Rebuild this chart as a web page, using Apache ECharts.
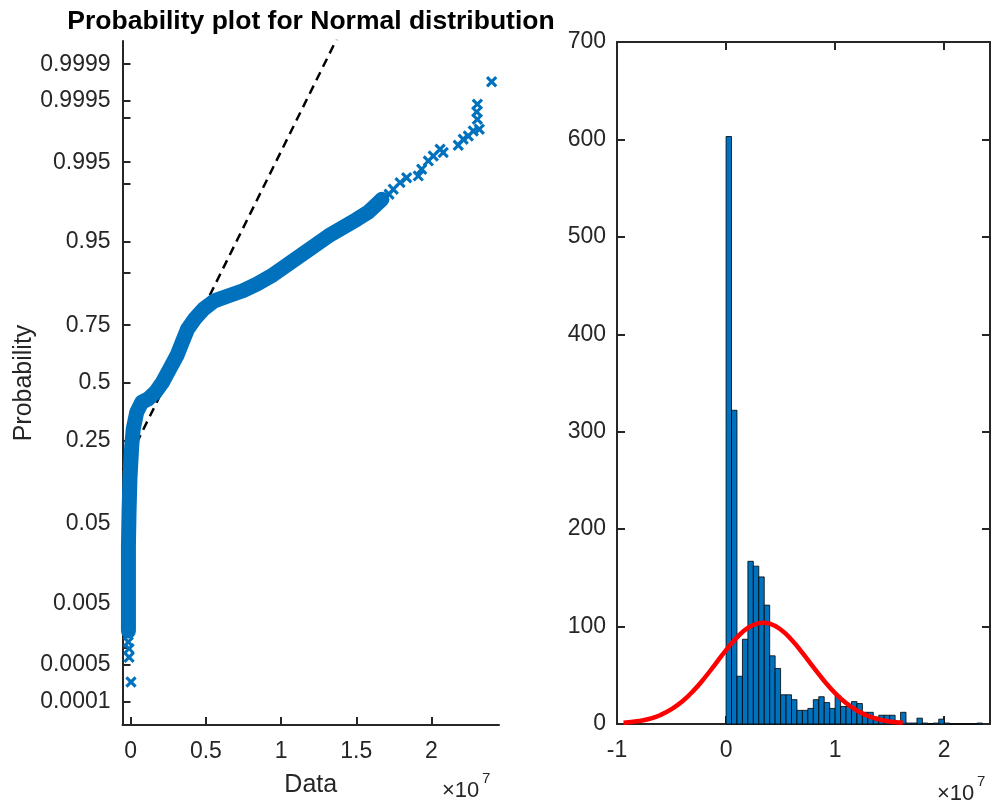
<!DOCTYPE html>
<html><head><meta charset="utf-8">
<script src="https://cdn.jsdelivr.net/npm/echarts@6/dist/echarts.min.js"></script>
<style>html,body{margin:0;padding:0;background:#fff}#c{width:992px;height:803px}</style>
</head><body><div id="c"></div>
<script>
// ---------- Left: normal probability plot (x in units of 1e7) ----------
const bandX = [-0.015,-0.015,-0.015,-0.011,-0.005,0.007,0.017,0.040,0.073,0.116,0.164,0.211,0.259,0.307,0.342,0.378,0.425,0.485,0.556,0.651,0.746,0.840,0.936,1.031,1.126,1.221,1.316,1.411,1.505,1.577,1.624,1.671];
const bandP = [0.0019,0.0112,0.029,0.066,0.1316,0.2325,0.296,0.3665,0.411,0.426,0.457,0.503,0.565,0.625,0.682,0.735,0.772,0.806,0.831,0.8455,0.859,0.8758,0.8945,0.9142,0.9311,0.9452,0.957,0.9652,0.972,0.9767,0.9806,0.984];
const tailX = [1.718,1.746,1.791,1.835,1.912,1.935,1.979,2.012,2.057,2.078,2.178,2.211,2.245,2.278,2.318,2.305,2.301,2.305,2.400];
const tailP = [0.9862,0.9881,0.9903,0.9917,0.99216,0.99368,0.99522,0.99596,0.9968,0.99642,0.99723,0.99777,0.99802,0.99836,0.99846,0.99895,0.99922,0.99943,0.99978];
const lowX = [-0.016,-0.011,-0.011,0.002];
const lowP = [0.00126,0.00097,0.00069,0.000243];
const refX = [-0.05, 1.37];
const refP = [0.155, 0.99997];
const probTicks = [0.0001,0.0005,0.001,0.005,0.01,0.05,0.1,0.25,0.5,0.75,0.9,0.95,0.99,0.995,0.999,0.9995,0.9999];
const probLabels = ['0.0001','0.0005','','0.005','','0.05','','0.25','0.5','0.75','','0.95','','0.995','','0.9995','0.9999'];
const dataTicks = [0,0.5,1,1.5,2];

// ---------- Right: histogram with normal fit ----------
const binStart = 0;
const binWidth = 0.05;
const counts = [603,322,49,87,167,162,151,122,70,57,30,30,25,14,14,16,25,28,22,16,29,18,18,23,21,12,12,7,9,9,9,2,12,1,1,6,1,0,1,5,1,0,0,0,0,0,1];
const fitX = [-0.94,-0.8,-0.7,-0.6,-0.5,-0.4,-0.3,-0.2,-0.1,0,0.1,0.2,0.3,0.34,0.4,0.5,0.6,0.7,0.8,0.9,1.0,1.1,1.2,1.3,1.4,1.5,1.62];
const fitY = [1.2,3.0,5.4,9.3,15.2,23.3,34.0,46.9,61.3,75.9,88.9,98.6,103.5,104,103.0,97.0,86.5,73.0,58.4,44.2,31.7,21.5,13.8,8.4,4.8,2.6,1.2];
const histXTicks = [-1,0,1,2];
const histYTicks = [0,100,200,300,400,500,600,700];

// inverse standard normal CDF (probability-scale axis)
function norminv(p){
  const a=[-3.969683028665376e+01,2.209460984245205e+02,-2.759285104469687e+02,1.383577518672690e+02,-3.066479806614716e+01,2.506628277459239e+00];
  const b=[-5.447609879822406e+01,1.615858368580409e+02,-1.556989798598866e+02,6.680131188771972e+01,-1.328068155288572e+01];
  const c=[-7.784894002430293e-03,-3.223964580411365e-01,-2.400758277161838e+00,-2.549732539343734e+00,4.374664141464968e+00,2.938163982698783e+00];
  const d=[7.784695709041462e-03,3.224671290700398e-01,2.445134137142996e+00,3.754408661907416e+00];
  const pl=0.02425, ph=1-pl; let q,r;
  if(p<pl){q=Math.sqrt(-2*Math.log(p));return (((((c[0]*q+c[1])*q+c[2])*q+c[3])*q+c[4])*q+c[5])/((((d[0]*q+d[1])*q+d[2])*q+d[3])*q+1);}
  if(p<=ph){q=p-0.5;r=q*q;return (((((a[0]*r+a[1])*r+a[2])*r+a[3])*r+a[4])*r+a[5])*q/(((((b[0]*r+b[1])*r+b[2])*r+b[3])*r+b[4])*r+1);}
  q=Math.sqrt(-2*Math.log(1-p));return -(((((c[0]*q+c[1])*q+c[2])*q+c[3])*q+c[4])*q+c[5])/((((d[0]*q+d[1])*q+d[2])*q+d[3])*q+1);
}

const FONT = "'Liberation Sans', Arial, Helvetica, sans-serif";
const AX = '#262626';
const BLUE = '#0072BD';
const tickZ = probTicks.map(norminv);
const labelZ = probTicks.filter((p,i)=>probLabels[i]!=='').map(norminv);
function probLabel(v){
  let best=0, bd=1e9;
  tickZ.forEach((z,i)=>{const dd=Math.abs(z-v); if(dd<bd){bd=dd;best=i;}});
  return probLabels[best];
}
const lineStyle = {color: AX, width: 2};
const labelStyle = {color: AX, fontSize: 23, fontFamily: FONT};

const bandLine = bandX.map((x,i)=>[x, norminv(bandP[i])]);
const markers = bandX.map((x,i)=>[x, norminv(bandP[i])])
  .concat(tailX.map((x,i)=>[x, norminv(tailP[i])]))
  .concat(lowX.map((x,i)=>[x, norminv(lowP[i])]));
const refLine = refX.map((x,i)=>[x, norminv(refP[i])]);
const histData = counts.map((c,i)=>[binStart+i*binWidth, binStart+(i+1)*binWidth, c]);
const fitData = fitX.map((x,i)=>[x, fitY[i]]);

const XMARK = 'path://M3.8,0L6.2,0L6.2,3.8L10,3.8L10,6.2L6.2,6.2L6.2,10L3.8,10L3.8,6.2L0,6.2L0,3.8L3.8,3.8Z';
const expStyle = (t, size) => ({text: t, font: size + 'px ' + FONT, fontSize: size, fontFamily: FONT, fill: AX});

const chart = echarts.init(document.getElementById('c'), null, {renderer:'canvas'});
chart.setOption({
  animation: false,
  backgroundColor: '#fff',
  title: {
    text: 'Probability plot for Normal distribution',
    left: 311, top: 8, textAlign: 'center', padding: 0,
    textStyle: {fontSize: 26.5, fontWeight: 'bold', color: '#000', fontFamily: FONT}
  },
  grid: [
    {left: 122.5, top: 41, width: 376.5, height: 684, containLabel: false, outerBoundsMode: 'none'},
    {left: 617, top: 42, width: 373, height: 682, containLabel: false, outerBoundsMode: 'none'}
  ],
  xAxis: [
    {gridIndex: 0, type: 'value', min: -0.0545, max: 2.449, position: 'bottom',
     axisLine: {show: true, onZero: false, lineStyle},
     axisTick: {show: true, inside: true, length: 8, lineStyle, customValues: dataTicks},
     axisLabel: {customValues: dataTicks, margin: 15, ...labelStyle, formatter: v => String(v)},
     splitLine: {show: false},
     name: 'Data', nameLocation: 'middle', nameGap: 48,
     nameTextStyle: {fontSize: 25, color: AX, fontFamily: FONT}},
    {gridIndex: 1, type: 'value', min: -1, max: 2.42, position: 'bottom',
     axisLine: {show: true, onZero: false, lineStyle},
     axisTick: {show: true, inside: true, length: 8, lineStyle, customValues: histXTicks},
     axisLabel: {customValues: histXTicks, margin: 15, ...labelStyle, formatter: v => String(v)},
     splitLine: {show: false}},
    {gridIndex: 1, type: 'value', min: -1, max: 2.42, position: 'top',
     axisLine: {show: true, onZero: false, lineStyle},
     axisTick: {show: true, inside: true, length: 8, lineStyle, customValues: histXTicks},
     axisLabel: {show: false}, splitLine: {show: false}}
  ],
  yAxis: [
    {gridIndex: 0, type: 'value', min: -3.99, max: 3.99,
     axisLine: {show: true, onZero: false, lineStyle},
     axisTick: {show: true, inside: true, length: 8, lineStyle, customValues: tickZ},
     axisLabel: {customValues: labelZ, margin: 12, ...labelStyle, formatter: probLabel},
     splitLine: {show: false},
     name: 'Probability', nameLocation: 'middle', nameGap: 84,
     nameTextStyle: {fontSize: 25, color: AX, fontFamily: FONT}},
    {gridIndex: 1, type: 'value', min: 0, max: 700,
     axisLine: {show: true, onZero: false, lineStyle},
     axisTick: {show: true, inside: true, length: 8, lineStyle, customValues: histYTicks},
     axisLabel: {customValues: histYTicks, margin: 11, ...labelStyle},
     splitLine: {show: false}},
    {gridIndex: 1, type: 'value', min: 0, max: 700, position: 'right',
     axisLine: {show: true, onZero: false, lineStyle},
     axisTick: {show: true, inside: true, length: 8, lineStyle, customValues: histYTicks},
     axisLabel: {show: false}, splitLine: {show: false}}
  ],
  graphic: [
    {type: 'text', x: 442, y: 780, style: expStyle('×10', 22)},
    {type: 'text', x: 482, y: 771, style: expStyle('7', 15)},
    {type: 'text', x: 937, y: 783, style: expStyle('×10', 22)},
    {type: 'text', x: 977, y: 774, style: expStyle('7', 15)}
  ],
  series: [
    {type: 'line', xAxisIndex: 0, yAxisIndex: 0, data: refLine, showSymbol: false, z: 1,
     lineStyle: {color: '#000', width: 2.5, type: [9, 6]}, clip: true},
    {type: 'line', xAxisIndex: 0, yAxisIndex: 0, data: bandLine, showSymbol: false, z: 2,
     lineStyle: {color: BLUE, width: 15, cap: 'round', join: 'round'}},
    {type: 'scatter', xAxisIndex: 0, yAxisIndex: 0, data: markers, z: 3,
     symbol: XMARK, symbolSize: 13, symbolRotate: 45, itemStyle: {color: BLUE, opacity: 1}},
    {type: 'custom', xAxisIndex: 1, yAxisIndex: 1, data: histData, z: 2,
     encode: {x: [0, 1], y: 2},
     renderItem: function(params, api){
       const p0 = api.coord([api.value(0), 0]);
       const p1 = api.coord([api.value(1), api.value(2)]);
       return {type: 'rect',
         shape: {x: p0[0], y: p1[1], width: p1[0]-p0[0], height: p0[1]-p1[1]},
         style: {fill: BLUE, stroke: '#000', lineWidth: 0.8}};
     }},
    {type: 'line', xAxisIndex: 1, yAxisIndex: 1, data: fitData, showSymbol: false, smooth: true, z: 4,
     lineStyle: {color: '#FF0000', width: 4.5}}
  ]
});
</script></body></html>
